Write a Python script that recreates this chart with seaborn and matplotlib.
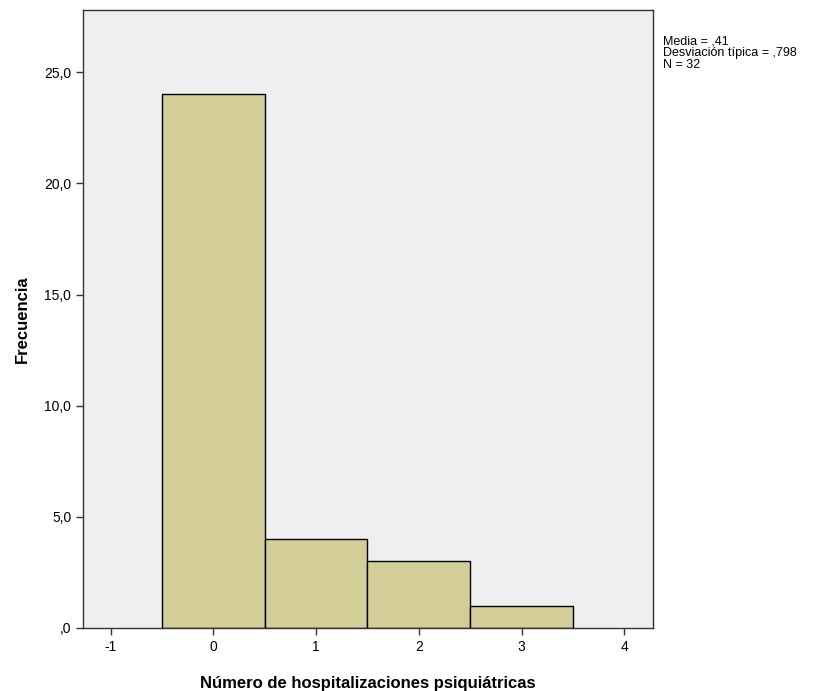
import numpy as np
import pandas as pd
import matplotlib
matplotlib.use("Agg")
import matplotlib.pyplot as plt
import seaborn as sns

# hospitalizations (value) and frequency
valores = [0, 1, 2, 3]
frecuencias = [24, 4, 3, 1]
x_ticks = [-1, 0, 1, 2, 3, 4]
y_ticks = [0, 5, 10, 15, 20, 25]
y_labels = [",0", "5,0", "10,0", "15,0", "20,0", "25,0"]

df = pd.DataFrame({"valor": valores, "freq": frecuencias})

sns.set_style("ticks")
plt.rcParams['font.family'] = ['Liberation Sans', 'DejaVu Sans']
plt.rcParams['text.color'] = 'black'
plt.rcParams['axes.labelcolor'] = 'black'
plt.rcParams['xtick.color'] = 'black'
plt.rcParams['ytick.color'] = 'black'

fig = plt.figure(figsize=(8.25, 6.91), dpi=100)
ax = fig.add_axes([0.1006, 0.0912, 0.6909, 0.8943])
ax.set_facecolor("#EFEFEF")

sns.histplot(data=df, x="valor", weights="freq", discrete=True,
             color="#D3CE97", alpha=1, edgecolor="black", linewidth=1, ax=ax)

ax.set_xlim(-1.27, 4.28)
ax.set_ylim(0, 27.8)
ax.set_xticks(x_ticks)
ax.set_xticklabels([str(t) for t in x_ticks], fontsize=10)
ax.set_yticks(y_ticks)
ax.set_yticklabels(y_labels, fontsize=10)
ax.tick_params(direction="out", length=5, width=1, color="#333333")
for s in ax.spines.values():
    s.set_color("#333333")
    s.set_linewidth(1)

ax.set_xlabel("Número de hospitalizaciones psiquiátricas", fontsize=12,
              fontweight="bold", labelpad=16)
ax.set_ylabel("Frecuencia", fontsize=12, fontweight="bold", labelpad=10)

# summary statistics
n = sum(frecuencias)
media = sum(v * f for v, f in zip(valores, frecuencias)) / n
desv = np.sqrt(sum(f * (v - media) ** 2 for v, f in zip(valores, frecuencias)) / (n - 1))
texto = "Media = ,%s\nDesviación típica = ,%s\nN = %d" % (
    f"{media:.2f}"[2:], f"{desv:.3f}"[2:], n)
fig.text(0.804, 0.948, texto, fontsize=9, va="top", ha="left", linespacing=0.95)

fig.savefig("out.png", dpi=100)
